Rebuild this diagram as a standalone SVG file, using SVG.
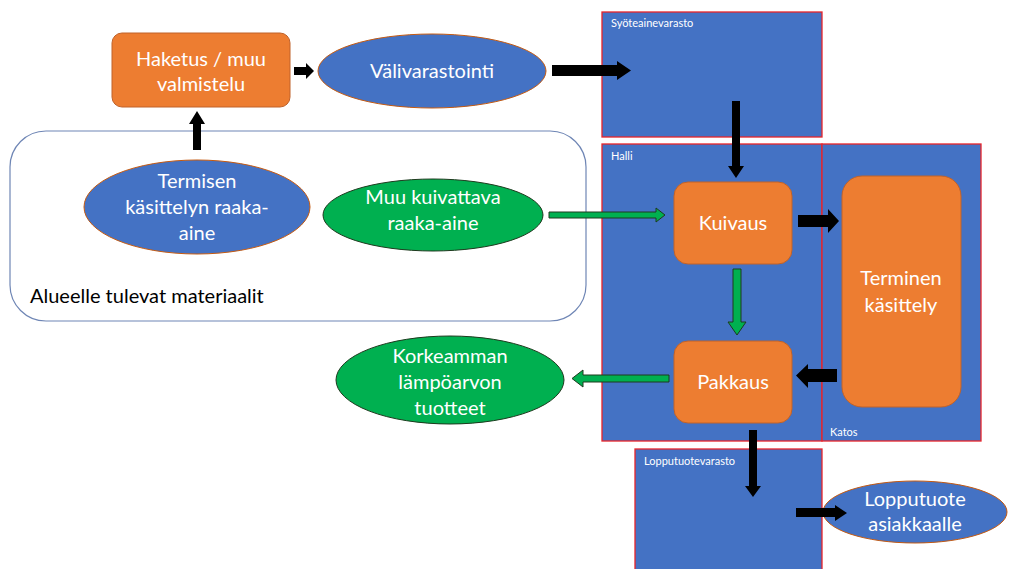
<svg xmlns="http://www.w3.org/2000/svg" width="1012" height="569" viewBox="0 0 1012 569">
<style>
.area{fill:#4472C4;stroke:#E8242A;stroke-width:1.3}
.box{fill:#ED7D31;stroke:#C0622A;stroke-width:1}
.ellb{fill:#4472C4;stroke:#C55A11;stroke-width:1}
.ellg{fill:#00B050;stroke:#1E3A1E;stroke-width:1}
.t{font-family:"Lato","Open Sans",sans-serif;font-size:20px;fill:#ffffff;text-anchor:middle}
.s{font-family:"Lato","Open Sans",sans-serif;font-size:11px;fill:#ffffff}
.blk{fill:#000000}
.grn{fill:#00B050;stroke:#1E3A1E;stroke-width:1}
</style>
<rect width="1012" height="569" fill="#ffffff"/>
<g id="areas">
<g id="syote"><rect class="area" x="602" y="12" width="220" height="125"/><text class="s" x="611" y="27">Syöteainevarasto</text></g>
<g id="halli"><rect class="area" x="602" y="144" width="220" height="297"/><text class="s" x="611" y="160">Halli</text></g>
<g id="katos"><rect class="area" x="822" y="144" width="159" height="297"/><text class="s" x="830" y="436">Katos</text></g>
<g id="lopputuotevarasto"><rect class="area" x="635" y="449" width="187" height="125"/><text class="s" x="644" y="465">Lopputuotevarasto</text></g>
<g id="alue"><rect x="10" y="131" width="576" height="190" rx="36" ry="36" fill="#ffffff" stroke="#6F86B5" stroke-width="1.2"/><text x="30" y="303" font-family="Lato,'Open Sans',sans-serif" font-size="20" fill="#000000">Alueelle tulevat materiaalit</text></g>
</g>
<g id="nodes">
<g id="haketus"><rect class="box" x="112" y="33" width="178" height="74" rx="10"/><text class="t" x="201" y="66">Haketus / muu</text><text class="t" x="201" y="91">valmistelu</text></g>
<g id="valivarastointi"><ellipse class="ellb" cx="432" cy="71" rx="114" ry="37"/><text class="t" x="432" y="78">Välivarastointi</text></g>
<g id="termisen"><ellipse class="ellb" cx="197" cy="207" rx="113" ry="47"/><text class="t" x="197" y="188">Termisen</text><text class="t" x="197" y="214">käsittelyn raaka-</text><text class="t" x="197" y="240">aine</text></g>
<g id="muu"><ellipse class="ellg" cx="433" cy="215" rx="110" ry="36"/><text class="t" x="433" y="204">Muu kuivattava</text><text class="t" x="433" y="230">raaka-aine</text></g>
<g id="kuivaus"><rect class="box" x="674" y="182" width="118" height="82" rx="14"/><text class="t" x="733" y="230">Kuivaus</text></g>
<g id="pakkaus"><rect class="box" x="674" y="341" width="118" height="82" rx="14"/><text class="t" x="733" y="389">Pakkaus</text></g>
<g id="terminen"><rect class="box" x="842" y="176" width="119" height="231" rx="20"/><text class="t" x="901" y="285">Terminen</text><text class="t" x="901" y="312">käsittely</text></g>
<g id="korkeamman"><ellipse class="ellg" cx="450" cy="380" rx="114" ry="44"/><text class="t" x="450" y="363">Korkeamman</text><text class="t" x="450" y="389">lämpöarvon</text><text class="t" x="450" y="415">tuotteet</text></g>
<g id="lopputuote"><ellipse class="ellb" cx="915" cy="512" rx="92" ry="31"/><text class="t" x="915" y="506">Lopputuote</text><text class="t" x="915" y="531">asiakkaalle</text></g>
</g>
<g id="connectors">
<polygon class="blk" points="294,67 306,67 306,63 314,71 306,79 306,75 294,75"/>
<polygon class="blk" points="552,65 617,65 617,61 631,70.5 617,80 617,76 552,76"/>
<polygon class="blk" points="193,150 193,124 189,124 197,111 205,124 201,124 201,150"/>
<polygon class="blk" points="732,101 740,101 740,166 744,166 736,178 728,166 732,166"/>
<polygon class="grn" points="549,212 656,212 656,208 665,215 656,222 656,218 549,218"/>
<polygon class="grn" points="733,269 741,269 741,322 746,322 737,335 728,322 733,322"/>
<polygon class="blk" points="798,215 828,215 828,209 839,221 828,233 828,227 798,227"/>
<polygon class="blk" points="837,369 808,369 808,364 796,375.5 808,388 808,382 837,382"/>
<polygon class="grn" points="669,375 583,375 583,370 572,378.5 583,387 583,382 669,382"/>
<polygon class="blk" points="749,430 757,430 757,486 761,486 753,497 745,486 749,486"/>
<polygon class="blk" points="796,508 835,508 835,505 847,513 835,521 835,517 796,517"/>
</g>
</svg>
